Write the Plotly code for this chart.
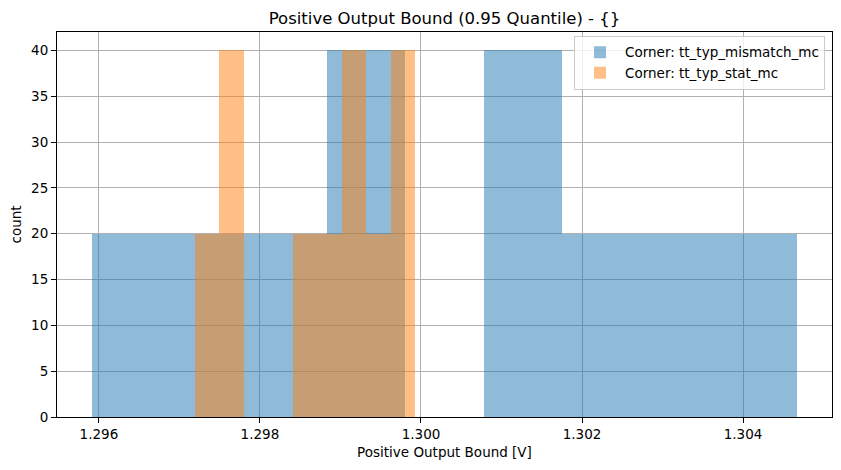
import plotly.graph_objects as go

# 直方图数据（从图中读取的分箱边界与计数）
mismatch_left = [1.295917, 1.298833, 1.300782, 1.301750]
mismatch_right = [1.298833, 1.299801, 1.301750, 1.304667]
mismatch_count = [20, 40, 40, 20]

stat_left = [1.297195, 1.297493, 1.298411, 1.299020, 1.299314, 1.299628]
stat_right = [1.297493, 1.297800, 1.299020, 1.299314, 1.299628, 1.299922]
stat_count = [20, 40, 20, 40, 20, 40]

x_min, x_max = 1.295917, 1.304667
pad = (x_max - x_min) * 0.05

fig = go.Figure()


def add_hist(left, right, count, name, color):
    fig.add_trace(go.Bar(
        x=[(l + r) / 2 for l, r in zip(left, right)],
        y=count,
        width=[r - l for l, r in zip(left, right)],
        name=name,
        marker=dict(color=color, line=dict(width=0)),
    ))


add_hist(mismatch_left, mismatch_right, mismatch_count,
         "Corner: tt_typ_mismatch_mc", "rgba(31,119,180,0.5)")
add_hist(stat_left, stat_right, stat_count,
         "Corner: tt_typ_stat_mc", "rgba(255,127,14,0.5)")

# 页面 body 有 8px 边距，这里把边距扣掉
fig.update_layout(
    width=841,
    height=470,
    barmode="overlay",
    bargap=0,
    plot_bgcolor="white",
    paper_bgcolor="white",
    font=dict(family="DejaVu Sans", size=13.5, color="black"),
    margin=dict(l=49, r=17, t=24, b=61),
    title=dict(text="Positive Output Bound (0.95 Quantile) - {}",
               xref="paper", x=0.5, xanchor="center",
               y=0.979, yanchor="middle",
               font=dict(size=16.5)),
    legend=dict(x=0.991, y=0.99, xanchor="right", yanchor="top",
                bgcolor="rgba(255,255,255,0.8)", bordercolor="#cccccc",
                borderwidth=1, font=dict(size=13.5), tracegroupgap=0,
                itemwidth=40),
    showlegend=True,
)

fig.update_xaxes(
    range=[x_min - pad, x_max + pad],
    tick0=1.296, dtick=0.002, tickformat=".3f",
    showgrid=True, gridcolor="#b0b0b0", gridwidth=1.1,
    showline=True, linecolor="black", linewidth=1, mirror=True,
    ticks="outside", ticklen=5, tickcolor="black",
    zeroline=False, automargin=False,
    title=dict(text="Positive Output Bound [V]", standoff=6,
               font=dict(size=13.5)),
)
fig.update_yaxes(
    range=[0, 42],
    dtick=5,
    showgrid=True, gridcolor="#b0b0b0", gridwidth=1.1,
    showline=True, linecolor="black", linewidth=1, mirror=True,
    ticks="outside", ticklen=5, tickcolor="black",
    zeroline=False, automargin=False,
    title=dict(text="count", standoff=8, font=dict(size=13.5)),
)

fig.write_html("out.html")
